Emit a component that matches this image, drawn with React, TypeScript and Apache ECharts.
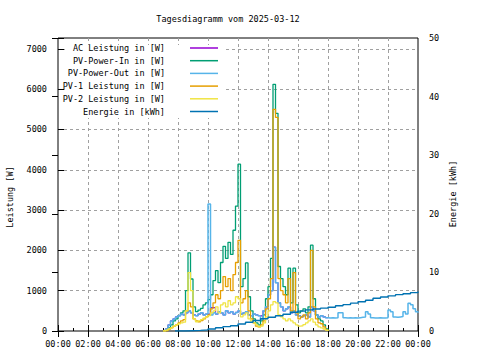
import React, { useEffect, useRef } from 'react';
import * as echarts from 'echarts';

const chartTitle = 'Tagesdiagramm vom 2025-03-12';
const leftAxisName = 'Leistung [W]';
const rightAxisName = 'Energie [kWh]';
const seriesNames = [
  'AC Leistung in [W]',
  'PV-Power-In in [W]',
  'PV-Power-Out in [W]',
  'PV-1 Leistung in [W]',
  'PV-2 Leistung in [W]',
  'Energie in [kWh]',
];
const seriesColors = ['#9400d3', '#009e73', '#56b4e9', '#e69f00', '#f0e442', '#0072b2'];

// sampling grid: from 07:00, every 10 minutes
const sampleStartHour = 7;
const sampleStepHour = 1 / 6;

const acPower = [
  0, 50, 150, 250, 300, 350, 380, 420, 400, 450,
  500, 450, 400, 380, 420, 450, 400, 420, 420, 580,
  580, 420, 480, 450, 400, 500, 450, 480, 420, 460,
  500, 420, 450, 480, 400, 380, 420, 400, 380, 370,
  500, 600, 900, 1000, 2080, 1200, 700, 600, 500, 550,
  600, 450, 500, 400, 380, 350, 380, 400, 350, 600,
  500, 400, 350, 380, 350, 330, 320,
];
const pvPowerIn = [
  0, 30, 80, 150, 250, 300, 380, 450, 500, 1000,
  1940, 1290, 600, 480, 520, 560, 650, 700, 780, 900,
  1250, 1500, 1200, 1700, 2100, 1800, 2200, 1900, 2500, 3100,
  4140, 1100, 1300, 1690, 850, 500, 300, 200, 150, 250,
  400, 800, 1100, 1800, 6120, 5400, 1600, 1300, 1100, 900,
  1560, 700, 1560, 650, 450, 500, 550, 450, 600, 2130,
  800, 400, 300, 250, 150, 50, 0,
];
const pvPowerOut = [
  0, 50, 150, 250, 300, 350, 380, 420, 400, 450,
  500, 450, 400, 380, 420, 450, 400, 420, 3150, 400,
  450, 420, 480, 450, 400, 500, 450, 480, 420, 460,
  500, 420, 450, 480, 400, 380, 420, 400, 380, 300,
  500, 600, 900, 1000, 2080, 1200, 700, 600, 500, 550,
  600, 450, 500, 400, 380, 350, 380, 400, 350, 600,
  500, 400, 350, 380, 350, 330, 320,
  330, 320, 330, 450, 450, 330,
  320, 330, 320, 330, 320, 330, 340, 350,
  480, 420, 330,
  320, 320, 330, 320, 320, 330,
  520, 480, 350, 340, 350,
  360, 480, 420, 690, 650, 550, 480, 450,
];
const pv1Power = [
  0, 10, 40, 80, 120, 150, 200, 250, 280, 500,
  700, 600, 300, 250, 230, 260, 300, 350, 400, 550,
  700, 900, 800, 1000, 1350, 1100, 1300, 1000, 1400, 1700,
  2250, 700, 800, 1000, 500, 300, 200, 120, 100, 150,
  250, 550, 800, 1300, 5500, 5300, 1300, 1000, 900, 700,
  1300, 500, 1450, 450, 300, 350, 400, 300, 450, 2000,
  600, 300, 200, 180, 100, 30, 0,
];
const pv2Power = [
  0, 20, 50, 80, 120, 150, 180, 200, 220, 500,
  1450, 1000, 300, 230, 250, 280, 320, 350, 380, 450,
  500, 600, 450, 650, 700, 600, 750, 650, 700, 850,
  800, 350, 400, 450, 300, 250, 200, 150, 100, 120,
  200, 350, 500, 650, 730, 700, 400, 350, 300, 250,
  300, 250, 200, 150, 120, 130, 160, 200, 250, 300,
  220, 150, 100, 80, 50, 20, 0,
];
const energyHours = [
  7.8, 8.0, 8.5, 9.0, 9.5, 10.0, 10.5, 11.0, 11.5, 12.0, 12.5, 13.0, 13.5, 14.0, 14.5, 15.0, 15.5,
  16.0, 16.5, 17.0, 17.5, 18.0, 18.5, 19.0, 19.5, 20.0, 20.5, 21.0, 21.5, 22.0, 22.5, 23.0, 23.5, 24.0,
];
const energyKWh = [
  0, 0, 0.05, 0.1, 0.2, 0.35, 0.55, 0.75, 0.9, 1.2, 1.5, 1.8, 2.1, 2.35, 2.6, 2.85, 3.2,
  3.4, 3.6, 3.75, 3.9, 4.05, 4.3, 4.5, 4.75, 5.0, 5.25, 5.6, 5.8, 6.0, 6.2, 6.35, 6.55, 6.75,
];

const FONT = 'DejaVu Sans Mono';
const FS = 8.5;

function toPairs(vals: number[]) {
  return vals.map((v, i) => [sampleStartHour + i * sampleStepHour, v]);
}

function hourLabel(v: number) {
  const h = Math.round(v) % 24;
  return (h < 10 ? '0' : '') + h + ':00';
}

export default function App() {
  const ref = useRef<HTMLDivElement>(null);
  useEffect(() => {
    if (!ref.current) return;
    const chart = echarts.init(ref.current, undefined, { renderer: 'svg' });
    const powerData = [acPower, pvPowerIn, pvPowerOut, pv1Power, pv2Power];
    const series: any[] = powerData.map((vals, k) => ({
      name: seriesNames[k],
      type: 'line',
      step: 'end',
      showSymbol: false,
      xAxisIndex: 0,
      yAxisIndex: 0,
      data: toPairs(vals),
      lineStyle: { color: seriesColors[k], width: k === 2 ? 1.5 : 1.3 },
      itemStyle: { color: seriesColors[k] },
    }));
    series.push({
      name: seriesNames[5],
      type: 'line',
      step: 'end',
      showSymbol: false,
      xAxisIndex: 0,
      yAxisIndex: 1,
      data: energyHours.map((h, i) => [h, energyKWh[i]]),
      lineStyle: { color: seriesColors[5], width: 1.4 },
      itemStyle: { color: seriesColors[5] },
    });

    const legendGraphics: any[] = [
      {
        type: 'rect',
        z: 10,
        shape: { x: 65, y: 45, width: 159, height: 73 },
        style: { fill: '#fff' },
      },
    ];
    seriesNames.forEach((n, k) => {
      const y = 48 + k * 12.7;
      legendGraphics.push({
        type: 'text',
        z: 11,
        x: 165,
        y,
        style: { text: n, align: 'right', verticalAlign: 'middle', font: `${FS}px "${FONT}"`, fill: '#000' },
      });
      legendGraphics.push({
        type: 'line',
        z: 11,
        shape: { x1: 190, y1: y, x2: 218, y2: y },
        style: { stroke: seriesColors[k], lineWidth: 1.5 },
      });
    });

    const gridLine = { show: true, showMinLine: false, showMaxLine: false, lineStyle: { color: '#a0a0a0', type: [3, 3], width: 1 } };
    const labelStyle = { fontFamily: FONT, fontSize: FS, color: '#000' };

    chart.setOption({
      animation: false,
      backgroundColor: '#fff',
      title: {
        text: chartTitle,
        left: 223,
        top: 9,
        textAlign: 'center',
        textStyle: { fontFamily: FONT, fontSize: FS, fontWeight: 'normal', color: '#000' },
      },
      grid: { left: 58, right: 62, top: 38, bottom: 29, show: true, borderColor: '#000', borderWidth: 1, backgroundColor: 'transparent' },
      xAxis: [
        {
          type: 'value', min: 0, max: 24, interval: 2, position: 'bottom',
          axisLine: { show: false },
          axisTick: { show: true, inside: true, length: 6, lineStyle: { color: '#000' } },
          minorTick: { show: true, splitNumber: 2, length: 3, lineStyle: { color: '#000' } },
          axisLabel: { ...labelStyle, margin: 8, formatter: hourLabel },
          splitLine: gridLine,
        },
        {
          type: 'value', min: 0, max: 24, interval: 2, position: 'top',
          axisLine: { show: false },
          axisTick: { show: true, inside: true, length: 6, lineStyle: { color: '#000' } },
          axisLabel: { show: false },
          splitLine: { show: false },
        },
      ],
      yAxis: [
        {
          type: 'value', min: 0, max: 7270, interval: 1000, position: 'left',
          axisLine: { show: false },
          axisTick: { show: true, inside: true, length: 6, lineStyle: { color: '#000' } },
          axisLabel: { ...labelStyle, margin: 11, formatter: (v: number) => (v % 1000 === 0 ? String(v) : '') },
          splitLine: gridLine,
        },
        {
          type: 'value', min: 0, max: 50, interval: 10, position: 'right',
          axisLine: { show: false },
          axisTick: { show: true, inside: true, length: 6, lineStyle: { color: '#000' } },
          axisLabel: { ...labelStyle, margin: 11 },
          splitLine: { show: false },
        },
      ],
      graphic: [
        {
          type: 'text', x: 10, y: 197, rotation: Math.PI / 2,
          style: { text: leftAxisName, align: 'center', verticalAlign: 'middle', font: `${FS}px "${FONT}"`, fill: '#000' },
        },
        {
          type: 'text', x: 453, y: 194, rotation: Math.PI / 2,
          style: { text: rightAxisName, align: 'center', verticalAlign: 'middle', font: `${FS}px "${FONT}"`, fill: '#000' },
        },
        ...legendGraphics,
      ],
      series,
    });
    return () => chart.dispose();
  }, []);
  return <div ref={ref} style={{ position: 'fixed', left: 0, top: 0, width: 480, height: 360 }} />;
}
